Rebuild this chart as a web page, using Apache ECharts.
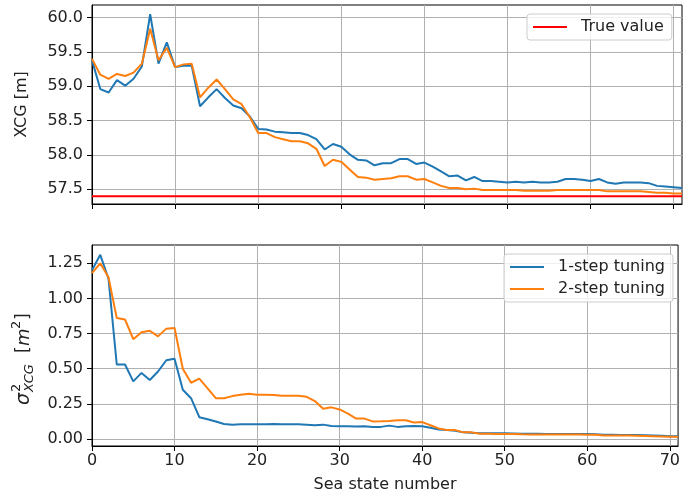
<!DOCTYPE html>
<html><head><meta charset="utf-8">
<script src="https://cdn.jsdelivr.net/npm/echarts@6/dist/echarts.min.js"></script>
<style>html,body{margin:0;padding:0;background:#fff}#c{width:683px;height:497px}</style>
</head><body><div id="c"></div><script>
const seaState = [0,1,2,3,4,5,6,7,8,9,10,11,12,13,14,15,16,17,18,19,20,21,22,23,24,25,26,27,28,29,30,31,32,33,34,35,36,37,38,39,40,41,42,43,44,45,46,47,48,49,50,51,52,53,54,55,56,57,58,59,60,61,62,63,64,65,66,67,68,69,70,71];
const xcg1 = [59.38,58.96,58.91,59.09,59.01,59.11,59.29,60.05,59.33,59.64,59.28,59.30,59.30,58.71,58.84,58.96,58.83,58.72,58.68,58.56,58.38,58.37,58.34,58.33,58.32,58.32,58.29,58.23,58.08,58.16,58.12,58.01,57.93,57.92,57.85,57.88,57.88,57.94,57.94,57.87,57.89,57.83,57.76,57.69,57.70,57.63,57.68,57.62,57.62,57.61,57.60,57.61,57.60,57.61,57.60,57.60,57.61,57.65,57.65,57.64,57.62,57.65,57.60,57.58,57.60,57.60,57.60,57.59,57.55,57.54,57.53,57.52];
const xcg2 = [59.40,59.17,59.11,59.18,59.15,59.20,59.33,59.84,59.38,59.56,59.28,59.32,59.33,58.84,58.98,59.10,58.96,58.81,58.74,58.55,58.32,58.32,58.26,58.23,58.20,58.20,58.17,58.09,57.84,57.93,57.90,57.79,57.68,57.67,57.64,57.65,57.66,57.69,57.69,57.64,57.65,57.60,57.55,57.52,57.52,57.50,57.51,57.49,57.49,57.49,57.49,57.49,57.48,57.48,57.48,57.48,57.49,57.49,57.49,57.49,57.49,57.49,57.47,57.47,57.47,57.47,57.47,57.46,57.45,57.45,57.44,57.44];
const var1 = [1.20,1.31,1.14,0.53,0.53,0.41,0.47,0.42,0.48,0.56,0.57,0.35,0.29,0.155,0.14,0.124,0.107,0.102,0.104,0.105,0.105,0.105,0.106,0.104,0.104,0.104,0.102,0.098,0.102,0.092,0.091,0.091,0.088,0.09,0.085,0.086,0.095,0.086,0.09,0.093,0.09,0.08,0.068,0.063,0.058,0.047,0.044,0.04,0.04,0.04,0.04,0.039,0.038,0.037,0.037,0.036,0.036,0.036,0.036,0.035,0.035,0.033,0.03,0.03,0.029,0.028,0.028,0.027,0.025,0.023,0.02,0.019];
const var2 = [1.18,1.25,1.15,0.86,0.85,0.71,0.76,0.77,0.73,0.785,0.79,0.50,0.40,0.43,0.36,0.29,0.29,0.305,0.315,0.322,0.315,0.315,0.313,0.308,0.308,0.308,0.30,0.27,0.215,0.225,0.21,0.18,0.145,0.145,0.125,0.126,0.128,0.133,0.133,0.117,0.12,0.098,0.075,0.063,0.063,0.047,0.047,0.037,0.037,0.036,0.036,0.035,0.033,0.032,0.032,0.031,0.031,0.032,0.032,0.031,0.03,0.03,0.025,0.024,0.024,0.024,0.023,0.022,0.02,0.018,0.016,0.015];
const trueValue = 57.4;
const xTicks = [0,10,20,30,40,50,60,70];
const yTicksTop = [57.5,58.0,58.5,59.0,59.5,60.0];
const yTicksBottom = [0,0.25,0.5,0.75,1.0,1.25];
const names = ['1-step tuning','2-step tuning','True value'];

const FONT = 'DejaVu Sans';
const TXT = '#222';
const pair = (arr) => seaState.map((x,i)=>[x,arr[i]]);
const gridLine = {show:true, lineStyle:{color:'#b0b0b0', width:1}};
function xAx(gi, labels){
  return {type:'value', gridIndex:gi, min:seaState[0], max:seaState[seaState.length-1],
    axisLine:{show:true, onZero:false, lineStyle:{color:'#000', width:1}},
    axisTick:{show:true, inside:false, length:5, lineStyle:{color:'#000'}, customValues:xTicks},
    axisLabel:{show:labels, customValues:xTicks, margin:7, color:TXT, fontSize:16, fontFamily:FONT},
    splitLine:gridLine,
    name: labels ? 'Sea state number' : '', nameLocation:'middle', nameGap:31,
    nameTextStyle:{color:TXT, fontSize:16, fontFamily:FONT}};
}
function yAx(gi, min, max, ticks, dec, name){
  return {type:'value', gridIndex:gi, min:min, max:max,
    axisLine:{show:true, onZero:false, lineStyle:{color:'#000', width:1}},
    axisTick:{show:true, inside:false, length:5, lineStyle:{color:'#000'}, customValues:ticks},
    axisLabel:{customValues:ticks, margin:9, color:TXT, fontSize:16, fontFamily:FONT, formatter:(v)=>v.toFixed(dec)},
    splitLine:gridLine,
    name:name, nameLocation:'middle', nameGap:62,
    nameTextStyle:{color:TXT, fontSize:16, fontFamily:FONT}};
}
const lineS = (name, data, color, xi, yi) => ({type:'line', name, data, xAxisIndex:xi, yAxisIndex:yi,
  showSymbol:false, symbol:'none', lineStyle:{color, width:2}, itemStyle:{color}, animation:false});

const legendBase = {orient:'vertical', icon:'rect', itemWidth:34, itemHeight:2, itemGap:6,
  backgroundColor:'rgba(255,255,255,0.8)', borderColor:'#cccccc', borderWidth:1, borderRadius:3,
  textStyle:{fontSize:16, fontFamily:FONT, color:TXT, padding:[0,0,0,9]}};

const chart = echarts.init(document.getElementById('c'), null, {renderer:'canvas'});
chart.setOption({
  animation:false,
  grid:[
    {left:92, right:1, top:5, height:199, show:true, borderColor:'#000', borderWidth:1, containLabel:false},
    {left:92, right:1, top:245, height:201, show:true, borderColor:'#000', borderWidth:1, containLabel:false}
  ],
  xAxis:[xAx(0,false), xAx(1,true)],
  yAxis:[yAx(0,57.286,60.185,yTicksTop,1,'XCG [m]'), yAx(1,-0.05,1.38,yTicksBottom,2,'')],
  legend:[
    Object.assign({}, legendBase, {data:[names[2]], left:527, top:14, padding:[5,8,5,6]}),
    Object.assign({}, legendBase, {data:[names[0],names[1]], left:504, top:254, padding:[5,8,5,6]})
  ],
  series:[
    lineS(names[2], [[seaState[0],trueValue],[seaState[seaState.length-1],trueValue]], '#ff0000', 0, 0),
    lineS(names[0], pair(xcg1), '#1f77b4', 0, 0),
    lineS(names[1], pair(xcg2), '#ff7f0e', 0, 0),
    lineS(names[0], pair(var1), '#1f77b4', 1, 1),
    lineS(names[1], pair(var2), '#ff7f0e', 1, 1)
  ],
  graphic:[{
    type:'group', x:24, y:405, rotation:Math.PI/2,
    children:[
      {type:'text', x:0, y:0, style:{text:'σ', font:'italic 19px "DejaVu Sans"', fill:TXT, verticalAlign:'middle'}},
      {type:'text', x:13, y:-7, style:{text:'2', font:'13px "DejaVu Sans"', fill:TXT, verticalAlign:'middle'}},
      {type:'text', x:13, y:6, style:{text:'XCG', font:'italic 13px "DejaVu Sans"', fill:TXT, verticalAlign:'middle'}},
      {type:'text', x:52, y:0, style:{text:'[', font:'17px "DejaVu Sans"', fill:TXT, verticalAlign:'middle'}},
      {type:'text', x:59, y:0, style:{text:'m', font:'italic 18px "DejaVu Sans"', fill:TXT, verticalAlign:'middle'}},
      {type:'text', x:76, y:-7, style:{text:'2', font:'13px "DejaVu Sans"', fill:TXT, verticalAlign:'middle'}},
      {type:'text', x:85, y:0, style:{text:']', font:'17px "DejaVu Sans"', fill:TXT, verticalAlign:'middle'}}
    ]
  }]
});
</script></body></html>
